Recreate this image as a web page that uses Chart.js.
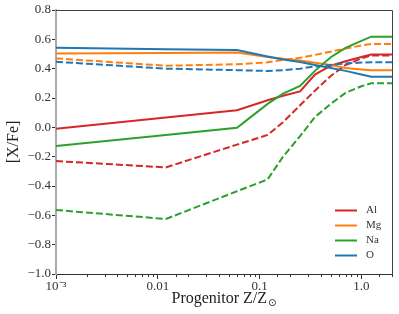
<!DOCTYPE html>
<html>
<head>
<meta charset="utf-8">
<script src="https://cdn.jsdelivr.net/npm/chart.js@4.4.1/dist/chart.umd.min.js"></script>
<style>
html, body { margin: 0; padding: 0; background: #fff; }
</style>
</head>
<body>
<canvas id="xfeChart" width="399" height="314"></canvas>
<script>
// progenitor metallicity Z/Zsun
var metallicity = [0.001, 0.012, 0.06, 0.12, 0.17, 0.25, 0.35, 0.5, 0.7, 1.0, 1.25, 2.0];

// [X/Fe] values, solid and dashed models
var alSolid  = [-0.01, 0.067, 0.117, 0.185, 0.215, 0.245, 0.36, 0.42, 0.451, 0.479, 0.497, 0.497];
var alDashed = [-0.23, -0.273, -0.118, -0.052, 0.035, 0.15, 0.25, 0.35, 0.425, 0.47, 0.49, 0.49];
var mgSolid  = [0.504, 0.507, 0.51, 0.48, 0.467, 0.455, 0.44, 0.425, 0.405, 0.395, 0.39, 0.39];
var mgDashed = [0.47, 0.42, 0.43, 0.443, 0.46, 0.474, 0.494, 0.516, 0.537, 0.558, 0.568, 0.568];
var naSolid  = [-0.127, -0.052, -0.003, 0.16, 0.23, 0.282, 0.385, 0.478, 0.542, 0.59, 0.618, 0.618];
var naDashed = [-0.564, -0.625, -0.436, -0.355, -0.2, -0.06, 0.07, 0.16, 0.235, 0.28, 0.30, 0.30];
var oSolid   = [0.543, 0.533, 0.527, 0.483, 0.462, 0.445, 0.425, 0.405, 0.385, 0.36, 0.345, 0.345];
var oDashed  = [0.447, 0.40, 0.39, 0.384, 0.39, 0.40, 0.415, 0.425, 0.435, 0.442, 0.443, 0.443];

var elements = ["Al", "Mg", "Na", "O"];
var elementColors = ["#d62728", "#ff7f0e", "#2ca02c", "#1f77b4"];
var xTickLabels = {"-3": "10\u207B\u00B3", "-2": "0.01", "-1": "0.1", "0": "1.0"};

Chart.defaults.font.family = "'Liberation Serif', serif";
Chart.defaults.color = "#333";

function decadeOf(v) {
  var l = Math.log10(v);
  var r = Math.round(l);
  if (Math.abs(l - r) < 1e-6) return r;
  return null;
}

function series(values, i, dashed) {
  return {
    label: elements[i] + (dashed ? " dashed" : ""),
    data: metallicity.map(function (z, k) { return {x: z, y: values[k]}; }),
    borderColor: elementColors[i],
    borderWidth: 2,
    borderDash: dashed ? [7, 3] : [],
    pointRadius: 0,
    tension: 0,
    fill: false
  };
}

var datasets = [
  series(alSolid, 0, false), series(alDashed, 0, true),
  series(mgSolid, 1, false), series(mgDashed, 1, true),
  series(naSolid, 2, false), series(naDashed, 2, true),
  series(oSolid, 3, false), series(oDashed, 3, true)
];
// later series on top, like matplotlib
datasets.forEach(function (d, i) { d.order = -i; });

var extras = {
  id: "extras",
  afterDraw: function (chart) {
    var ctx = chart.ctx;
    var a = chart.chartArea;
    var xs = chart.scales.x;
    ctx.save();

    // top and right spines
    ctx.strokeStyle = "#404040";
    ctx.lineWidth = 1;
    ctx.beginPath();
    ctx.moveTo(a.left, a.top + 0.5);
    ctx.lineTo(a.right + 0.5, a.top + 0.5);
    ctx.lineTo(a.right + 0.5, a.bottom);
    ctx.stroke();

    // minor x ticks
    ctx.strokeStyle = "#333";
    xs.ticks.forEach(function (t) {
      if (decadeOf(t.value) !== null) return;
      var px = Math.round(xs.getPixelForValue(t.value)) + 0.5;
      ctx.beginPath();
      ctx.moveTo(px, a.bottom);
      ctx.lineTo(px, a.bottom + 3);
      ctx.stroke();
    });

    // x title with sun subscript
    ctx.fillStyle = "#222";
    ctx.textBaseline = "alphabetic";
    ctx.font = "16px 'Liberation Serif', serif";
    var main = "Progenitor Z/Z";
    var w1 = ctx.measureText(main).width;
    ctx.font = "10px 'DejaVu Sans', sans-serif";
    var w2 = ctx.measureText("\u2299").width;
    var x0 = (a.left + a.right) / 2 - (w1 + w2 + 1) / 2;
    ctx.font = "16px 'Liberation Serif', serif";
    ctx.textAlign = "left";
    ctx.fillText(main, x0, 303);
    ctx.font = "10px 'DejaVu Sans', sans-serif";
    ctx.fillText("\u2299", x0 + w1 + 1, 306);

    // y title
    ctx.save();
    ctx.translate(14, (a.top + a.bottom) / 2);
    ctx.rotate(-Math.PI / 2);
    ctx.textAlign = "center";
    ctx.textBaseline = "middle";
    ctx.font = "16px 'Liberation Serif', serif";
    ctx.fillText("[X/Fe]", 0, 0);
    ctx.restore();

    // legend
    ctx.font = "11px 'Liberation Serif', serif";
    ctx.textAlign = "left";
    ctx.textBaseline = "middle";
    elements.forEach(function (name, i) {
      var y = a.bottom - 63.5 + i * 15;
      ctx.strokeStyle = elementColors[i];
      ctx.lineWidth = 2;
      ctx.beginPath();
      ctx.moveTo(a.right - 57, y);
      ctx.lineTo(a.right - 35, y);
      ctx.stroke();
      ctx.fillStyle = "#333";
      ctx.fillText(name, a.right - 26, y);
    });
    ctx.restore();
  }
};

new Chart("xfeChart", {
  type: "line",
  data: {datasets: datasets},
  options: {
    responsive: false,
    animation: false,
    layout: {padding: {top: 10, right: 7, left: 0, bottom: 0}},
    plugins: {legend: {display: false}, tooltip: {enabled: false}},
    scales: {
      x: {
        type: "logarithmic",
        min: 0.001,
        max: 2,
        afterFit: function (s) { s.height = 40; },
        border: {color: "#333", width: 1},
        grid: {
          drawOnChartArea: false,
          tickLength: 5,
          tickColor: function (c) {
            return c.tick && decadeOf(c.tick.value) !== null ? "#333" : "rgba(0,0,0,0)";
          }
        },
        ticks: {
          autoSkip: false,
          maxRotation: 0,
          padding: 0,
          font: {size: 13},
          callback: function (v) {
            var d = decadeOf(v);
            return d !== null && xTickLabels[d] ? xTickLabels[d] : "";
          }
        }
      },
      y: {
        min: -1.0,
        max: 0.8,
        afterFit: function (s) { s.width = 56; },
        border: {color: "#aaaaaa", width: 2},
        grid: {drawOnChartArea: false, tickLength: 4, tickColor: "#333"},
        ticks: {
          stepSize: 0.2,
          padding: 1,
          font: {size: 13},
          callback: function (v) {
            var r = Math.round(v * 10) / 10;
            return (r < 0 ? "\u2212" : "") + Math.abs(r).toFixed(1);
          }
        }
      }
    }
  },
  plugins: [extras]
});
</script>
</body>
</html>
